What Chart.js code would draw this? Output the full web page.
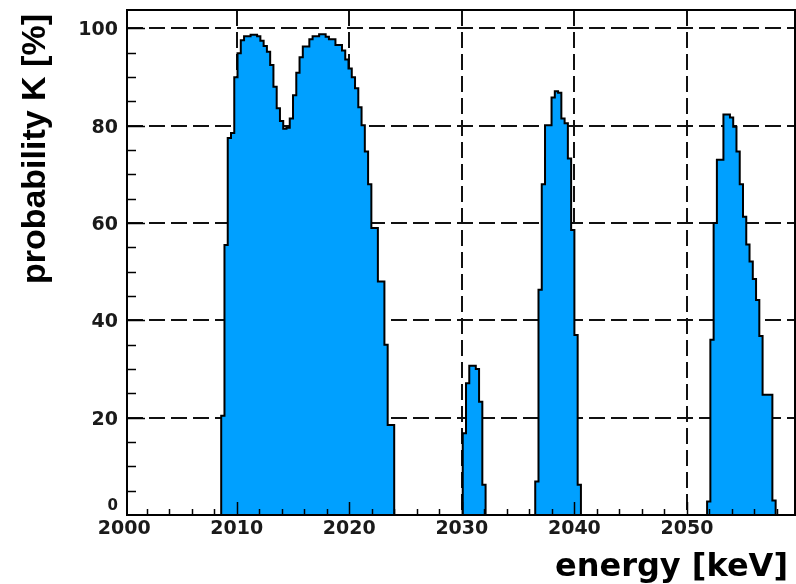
<!DOCTYPE html>
<html>
<head>
<meta charset="utf-8">
<script src="https://cdn.jsdelivr.net/npm/chart.js@4.4.0/dist/chart.umd.min.js"></script>
<style>
  html, body { margin: 0; padding: 0; background: #fff; }
  #wrap { width: 796px; height: 584px; }
</style>
</head>
<body>
<div id="wrap"><canvas id="chart" width="796" height="584"></canvas></div>
<script>
// histogram bins (keV), one start per peak, common width
const binWidth = 0.29;

const peak1Start = 2008.62;
const peak1 = [20.4, 55.5, 77.5, 78.5, 90, 94.9, 97.6, 98.4, 98.4, 98.7, 98.7, 98.4, 97.5, 96.4,
  95.2, 92.5, 88, 83.6, 81, 79.4, 79.6, 81.5, 86.3, 90.9, 94.1, 96.3, 96.3, 97.8, 98.4, 98.4,
  98.8, 98.8, 98.3, 97.8, 97.8, 96.6, 96.6, 95.5, 93.6, 91.8, 90, 87.7, 83.8, 80.1, 74.7, 68,
  59, 59, 48, 48, 35, 18.5, 18.5];

const peak2Start = 2030.08;
const peak2 = [16.8, 27.1, 30.7, 30.7, 30.0, 23.3, 6.2];

const peak3Start = 2036.52;
const peak3 = [6.9, 46.3, 68, 80.1, 80.1, 85.8, 87.1, 86.8, 81.5, 80.5, 73.3, 58.6, 37, 6.2];

const peak4Start = 2051.79;
const peak4 = [2.8, 36, 60, 73, 73, 82.3, 82.3, 81.7, 79.8, 74.7, 68, 61.3, 55.6, 52.1, 48.5,
  44.2, 36.8, 24.7, 24.7, 24.7, 3];

const xLabels = [2000, 2010, 2020, 2030, 2040, 2050];
const yLabels = [20, 40, 60, 80, 100];

const fillColor = "#00a0ff";

// turn bins into points for a step-before line
function histPoints(start, values) {
  const pts = [{ x: start, y: 0 }];
  values.forEach((v, i) => pts.push({ x: start + i * binWidth, y: v }));
  pts.push({ x: start + values.length * binWidth, y: 0 });
  return pts;
}

function histDataset(start, values) {
  return {
    data: histPoints(start, values),
    stepped: "before",
    fill: "origin",
    backgroundColor: fillColor,
    borderColor: "#000",
    borderWidth: 2,
    pointRadius: 0,
    tension: 0,
  };
}

const rootFrame = {
  id: "rootFrame",
  beforeDatasetsDraw(chart) {
    const { ctx, chartArea: a, scales: { x, y } } = chart;
    ctx.save();
    ctx.strokeStyle = "#111";
    ctx.lineWidth = 2;
    ctx.setLineDash([16, 6]);
    xLabels.slice(1).forEach((v) => {
      const px = Math.round(x.getPixelForValue(v));
      ctx.beginPath();
      ctx.moveTo(px, a.top);
      ctx.lineTo(px, a.bottom);
      ctx.stroke();
    });
    yLabels.forEach((v) => {
      const py = Math.round(y.getPixelForValue(v));
      ctx.beginPath();
      ctx.moveTo(a.left, py);
      ctx.lineTo(a.right, py);
      ctx.stroke();
    });
    ctx.restore();
  },
  afterDatasetsDraw(chart) {
    const { ctx, chartArea: a, scales: { x, y } } = chart;
    ctx.save();
    ctx.strokeStyle = "#000";
    ctx.lineWidth = 2;
    ctx.strokeRect(a.left, a.top, a.right - a.left, a.bottom - a.top);

    // x ticks, pointing up from the bottom
    ctx.lineWidth = 1.5;
    for (let v = 2002; v < 2060; v += 2) {
      const px = Math.round(x.getPixelForValue(v)) + 0.5;
      const len = v % 10 === 0 ? 13 : 6;
      ctx.beginPath();
      ctx.moveTo(px, a.bottom);
      ctx.lineTo(px, a.bottom - len);
      ctx.stroke();
    }
    // y ticks, pointing right from the left
    for (let v = 5; v < 104; v += 5) {
      const py = Math.round(y.getPixelForValue(v)) + 0.5;
      const len = v % 20 === 0 ? 18 : 9;
      ctx.beginPath();
      ctx.moveTo(a.left, py);
      ctx.lineTo(a.left + len, py);
      ctx.stroke();
    }

    // tick labels
    ctx.fillStyle = "#1a1a1a";
    ctx.font = 'bold 19px "DejaVu Sans"';
    ctx.textAlign = "center";
    ctx.textBaseline = "alphabetic";
    xLabels.forEach((v) => ctx.fillText(String(v), x.getPixelForValue(v), 534));
    ctx.textAlign = "right";
    yLabels.forEach((v) => ctx.fillText(String(v), a.left - 9, y.getPixelForValue(v) + 7));
    ctx.font = 'bold 15px "DejaVu Sans"';
    ctx.fillText("0", a.left - 9, 510);

    // axis titles
    ctx.fillStyle = "#000";
    ctx.font = 'bold 32px "DejaVu Sans"';
    ctx.textAlign = "right";
    ctx.fillText("energy [keV]", 788, 576);

    ctx.save();
    ctx.translate(45, 14);
    ctx.rotate(-Math.PI / 2);
    ctx.font = 'bold 34px "Liberation Sans"';
    ctx.textAlign = "right";
    ctx.fillText("probability K [%]", 0, 0);
    ctx.restore();

    ctx.restore();
  },
};

new Chart(document.getElementById("chart"), {
  type: "line",
  data: {
    datasets: [
      histDataset(peak1Start, peak1),
      histDataset(peak2Start, peak2),
      histDataset(peak3Start, peak3),
      histDataset(peak4Start, peak4),
    ],
  },
  options: {
    responsive: false,
    animation: false,
    devicePixelRatio: 1,
    layout: { padding: { left: 127, top: 10, right: 1, bottom: 69 } },
    plugins: { legend: { display: false }, tooltip: { enabled: false } },
    scales: {
      x: {
        type: "linear",
        min: 2000.25,
        max: 2059.6,
        grid: { display: false, drawTicks: false },
        border: { display: false },
        ticks: { display: false },
      },
      y: {
        min: 0,
        max: 103.8,
        grid: { display: false, drawTicks: false },
        border: { display: false },
        ticks: { display: false },
      },
    },
  },
  plugins: [rootFrame],
});
</script>
</body>
</html>
